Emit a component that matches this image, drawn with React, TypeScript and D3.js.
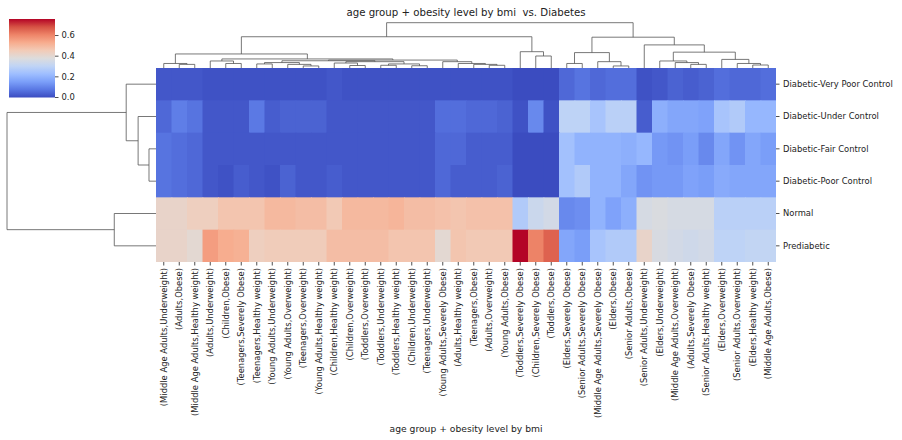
import React, { useRef, useEffect } from 'react';
import * as d3 from 'd3';

const colLabels = [
  '(Middle Age Adults,Underweight)', '(Adults,Obese)', '(Middle Age Adults,Healthy weight)', '(Adults,Underweight)',
  '(Children,Obese)', '(Teenagers,Severely Obese)', '(Teenagers,Healthy weight)', '(Young Adults,Underweight)',
  '(Young Adults,Overweight)', '(Teenagers,Overweight)', '(Young Adults,Healthy weight)', '(Children,Healthy weight)',
  '(Children,Overweight)', '(Toddlers,Overweight)', '(Toddlers,Underweight)', '(Toddlers,Healthy weight)',
  '(Children,Underweight)', '(Teenagers,Underweight)', '(Young Adults,Severely Obese)', '(Adults,Healthy weight)',
  '(Teenagers,Obese)', '(Adults,Overweight)', '(Young Adults,Obese)', '(Toddlers,Severely Obese)',
  '(Children,Severely Obese)', '(Toddlers,Obese)', '(Elders,Severely Obese)', '(Senior Adults,Severely Obese)',
  '(Middle Age Adults,Severely Obese)', '(Elders,Obese)', '(Senior Adults,Obese)', '(Senior Adults,Underweight)',
  '(Elders,Underweight)', '(Middle Age Adults,Overweight)', '(Adults,Severely Obese)', '(Senior Adults,Healthy weight)',
  '(Elders,Overweight)', '(Senior Adults,Overweight)', '(Elders,Healthy weight)', '(Middle Age Adults,Obese)',
];

const rowLabels = [
  'Diabetic-Very Poor Control', 'Diabetic-Under Control', 'Diabetic-Fair Control',
  'Diabetic-Poor Control', 'Normal', 'Prediabetic',
];

// one array per row, in column order above
const veryPoor = [0.02, 0.02, 0.02, 0.01, 0.01, 0.01, 0.01, 0.01, 0.01, 0.01, 0.01, 0.02, 0.01, 0.01, 0.01, 0.01, 0.01, 0.01, 0.01, 0.01,
  0.01, 0.01, 0.01, 0.0, 0.0, 0.0, 0.05, 0.07, 0.05, 0.06, 0.06, 0.01, 0.02, 0.04, 0.03, 0.04, 0.06, 0.05, 0.05, 0.06];
const underControl = [0.05, 0.09, 0.07, 0.02, 0.02, 0.02, 0.08, 0.03, 0.04, 0.04, 0.04, 0.02, 0.02, 0.02, 0.02, 0.02, 0.02, 0.02, 0.06, 0.06,
  0.05, 0.05, 0.04, 0.01, 0.11, 0.01, 0.30, 0.30, 0.25, 0.29, 0.29, 0.03, 0.19, 0.17, 0.17, 0.16, 0.25, 0.27, 0.21, 0.21];
const fairControl = [0.07, 0.06, 0.05, 0.02, 0.02, 0.02, 0.02, 0.02, 0.02, 0.02, 0.02, 0.02, 0.02, 0.02, 0.02, 0.02, 0.02, 0.02, 0.05, 0.05,
  0.03, 0.03, 0.03, 0.0, 0.0, 0.0, 0.24, 0.2, 0.2, 0.2, 0.19, 0.21, 0.14, 0.13, 0.15, 0.11, 0.17, 0.13, 0.17, 0.15];
const poorControl = [0.07, 0.06, 0.05, 0.02, 0.01, 0.03, 0.02, 0.01, 0.04, 0.02, 0.02, 0.03, 0.02, 0.02, 0.02, 0.02, 0.02, 0.02, 0.05, 0.03,
  0.03, 0.03, 0.04, 0.0, 0.0, 0.0, 0.24, 0.27, 0.2, 0.2, 0.17, 0.13, 0.14, 0.14, 0.16, 0.15, 0.18, 0.17, 0.17, 0.17];
const normal = [0.42, 0.42, 0.44, 0.44, 0.47, 0.47, 0.47, 0.5, 0.5, 0.49, 0.49, 0.46, 0.5, 0.5, 0.5, 0.51, 0.49, 0.49, 0.48, 0.47,
  0.48, 0.48, 0.48, 0.27, 0.33, 0.35, 0.11, 0.12, 0.2, 0.16, 0.19, 0.36, 0.37, 0.36, 0.36, 0.36, 0.29, 0.29, 0.29, 0.29];
const prediabetic = [0.42, 0.42, 0.40, 0.56, 0.53, 0.52, 0.44, 0.45, 0.45, 0.45, 0.45, 0.49, 0.49, 0.49, 0.49, 0.47, 0.47, 0.47, 0.40, 0.47,
  0.46, 0.46, 0.46, 0.76, 0.61, 0.66, 0.17, 0.15, 0.25, 0.27, 0.27, 0.42, 0.365, 0.35, 0.34, 0.35, 0.3, 0.3, 0.31, 0.31];

const heatRows = [veryPoor, underControl, fairControl, poorControl, normal, prediabetic];

// scipy-like linkage in display order: [left id, right id, distance]; ids >= n are earlier merges
const colLinkage: [number, number, number][] = [
  [1, 2, 0.08], [0, 40, 0.10], [4, 5, 0.10], [3, 42, 0.155],
  [9, 10, 0.045], [8, 44, 0.08], [6, 7, 0.09], [46, 45, 0.12],
  [12, 13, 0.055], [11, 48, 0.11], [14, 15, 0.06], [16, 17, 0.05], [50, 51, 0.09], [49, 52, 0.14],
  [21, 22, 0.06], [20, 54, 0.08], [19, 55, 0.10], [18, 56, 0.14],
  [47, 53, 0.16], [58, 57, 0.175], [43, 59, 0.20], [41, 60, 0.31],
  [24, 25, 0.265], [23, 62, 0.36], [61, 63, 0.69],
  [26, 27, 0.10], [29, 30, 0.045], [28, 66, 0.14], [65, 67, 0.34],
  [34, 35, 0.08], [33, 69, 0.12], [32, 70, 0.155],
  [38, 39, 0.066], [37, 72, 0.10], [36, 73, 0.19],
  [71, 74, 0.35], [31, 75, 0.51], [68, 76, 0.68], [64, 77, 1.0],
];

const rowLinkage: [number, number, number][] = [
  [2, 3, 0.047], [1, 6, 0.12], [0, 7, 0.20], [4, 5, 0.28], [8, 9, 1.0],
];

const colorbarTicks = [0, 0.2, 0.4, 0.6];

const coolwarm = ['#3b4cc0', '#5977e3', '#7b9ff9', '#9ebeff', '#c0d4f5', '#dddcdc',
  '#f2cbb7', '#f7ac8e', '#ee8468', '#d65244', '#b40426'];

const width = 902;
const height = 440;
const font = 'DejaVu Sans, sans-serif';
const tickFont = 8.4;

type Seg = { a: number; ha: number; b: number; hb: number; h: number };

// walk the linkage and return one U-shape per merge
function dendroSegments(linkage: [number, number, number][], leafPos: number[]): Seg[] {
  const pos = [...leafPos];
  const hgt = leafPos.map(() => 0);
  const segs: Seg[] = [];
  linkage.forEach(([a, b, h]) => {
    segs.push({ a: pos[a], ha: hgt[a], b: pos[b], hb: hgt[b], h });
    pos.push((pos[a] + pos[b]) / 2);
    hgt.push(h);
  });
  return segs;
}

const App: React.FC = () => {
  const svgRef = useRef<SVGSVGElement | null>(null);

  useEffect(() => {
    const svg = d3.select(svgRef.current);
    svg.selectAll('*').remove();

    const hm = { left: 156, right: 776, top: 68, bottom: 262 };
    const nCols = colLabels.length;
    const nRows = rowLabels.length;

    const x = d3.scaleBand<number>().domain(d3.range(nCols)).range([hm.left, hm.right]);
    const y = d3.scaleBand<number>().domain(d3.range(nRows)).range([hm.top, hm.bottom]);

    const vmax = d3.max(heatRows, r => d3.max(r)) || 1;
    const color = d3.scaleLinear<string>()
      .domain(coolwarm.map((_, i) => (i / (coolwarm.length - 1)) * vmax))
      .range(coolwarm)
      .interpolate(d3.interpolateRgb)
      .clamp(true);

    // Heatmap cells (slight overlap hides seams)
    const cells = heatRows.flatMap((row, r) => row.map((v, c) => ({ r, c, v })));
    svg.append('g')
      .selectAll('rect')
      .data(cells)
      .enter()
      .append('rect')
      .attr('x', d => x(d.c)!)
      .attr('y', d => y(d.r)!)
      .attr('width', d => x.bandwidth() + (d.c < nCols - 1 ? 0.8 : 0))
      .attr('height', d => y.bandwidth() + (d.r < nRows - 1 ? 0.8 : 0))
      .attr('fill', d => color(d.v));

    // Column ticks + labels
    const colAxis = svg.append('g');
    colLabels.forEach((label, c) => {
      const cx = x(c)! + x.bandwidth() / 2;
      colAxis.append('line')
        .attr('x1', cx).attr('x2', cx)
        .attr('y1', hm.bottom).attr('y2', hm.bottom + 3.5)
        .attr('stroke', '#222').attr('stroke-width', 0.8);
      colAxis.append('text')
        .attr('transform', `translate(${cx},${hm.bottom + 6}) rotate(-90)`)
        .attr('text-anchor', 'end')
        .attr('dy', '0.35em')
        .attr('font-family', font)
        .attr('font-size', tickFont)
        .attr('fill', '#222')
        .text(label);
    });

    // Row ticks + labels
    const rowAxis = svg.append('g');
    rowLabels.forEach((label, r) => {
      const cy = y(r)! + y.bandwidth() / 2;
      rowAxis.append('line')
        .attr('x1', hm.right).attr('x2', hm.right + 3.5)
        .attr('y1', cy).attr('y2', cy)
        .attr('stroke', '#222').attr('stroke-width', 0.8);
      rowAxis.append('text')
        .attr('x', hm.right + 7)
        .attr('y', cy)
        .attr('dy', '0.35em')
        .attr('font-family', font)
        .attr('font-size', tickFont)
        .attr('fill', '#222')
        .text(label);
    });

    // Column dendrogram
    const colH = d3.scaleLinear().domain([0, 1]).range([hm.top, 22.7]);
    const colLeaves = d3.range(nCols).map(c => x(c)! + x.bandwidth() / 2);
    svg.append('g')
      .selectAll('path')
      .data(dendroSegments(colLinkage, colLeaves))
      .enter()
      .append('path')
      .attr('d', s => `M${s.a},${colH(s.ha)}V${colH(s.h)}H${s.b}V${colH(s.hb)}`)
      .attr('fill', 'none')
      .attr('stroke', '#555')
      .attr('stroke-width', 0.8);

    // Row dendrogram
    const rowH = d3.scaleLinear().domain([0, 1]).range([hm.left, 7]);
    const rowLeaves = d3.range(nRows).map(r => y(r)! + y.bandwidth() / 2);
    svg.append('g')
      .selectAll('path')
      .data(dendroSegments(rowLinkage, rowLeaves))
      .enter()
      .append('path')
      .attr('d', s => `M${rowH(s.ha)},${s.a}H${rowH(s.h)}V${s.b}H${rowH(s.hb)}`)
      .attr('fill', 'none')
      .attr('stroke', '#555')
      .attr('stroke-width', 0.8);

    // Colorbar
    const cb = { left: 9, right: 55, top: 19, bottom: 97.5 };
    const cbScale = d3.scaleLinear().domain([0, vmax]).range([cb.bottom, cb.top]);
    const grad = svg.append('defs').append('linearGradient')
      .attr('id', 'cbgrad')
      .attr('x1', 0).attr('y1', 1).attr('x2', 0).attr('y2', 0);
    coolwarm.forEach((c, i) => {
      grad.append('stop')
        .attr('offset', `${(i / (coolwarm.length - 1)) * 100}%`)
        .attr('stop-color', c);
    });
    svg.append('rect')
      .attr('x', cb.left).attr('y', cb.top)
      .attr('width', cb.right - cb.left).attr('height', cb.bottom - cb.top)
      .attr('fill', 'url(#cbgrad)');
    colorbarTicks.forEach(t => {
      svg.append('line')
        .attr('x1', cb.right).attr('x2', cb.right + 3.5)
        .attr('y1', cbScale(t)).attr('y2', cbScale(t))
        .attr('stroke', '#222').attr('stroke-width', 0.8);
      svg.append('text')
        .attr('x', cb.right + 6.5)
        .attr('y', cbScale(t))
        .attr('dy', '0.35em')
        .attr('font-family', font)
        .attr('font-size', tickFont)
        .attr('fill', '#222')
        .text(d3.format('.1f')(t));
    });

    // Title and axis label
    const midX = (hm.left + hm.right) / 2;
    svg.append('text')
      .attr('x', midX).attr('y', 15.5)
      .attr('text-anchor', 'middle')
      .attr('font-family', font)
      .attr('font-size', 10.2)
      .attr('fill', '#222')
      .style('white-space', 'pre')
      .text('age group + obesity level by bmi  vs. Diabetes');
    svg.append('text')
      .attr('x', midX).attr('y', 432)
      .attr('text-anchor', 'middle')
      .attr('font-family', font)
      .attr('font-size', 9.2)
      .attr('fill', '#222')
      .text('age group + obesity level by bmi');
  }, []);

  return (
    <svg
      ref={svgRef}
      width={width}
      height={height}
      style={{ position: 'absolute', left: 0, top: 0, background: '#fff' }}
    />
  );
};

export default App;
